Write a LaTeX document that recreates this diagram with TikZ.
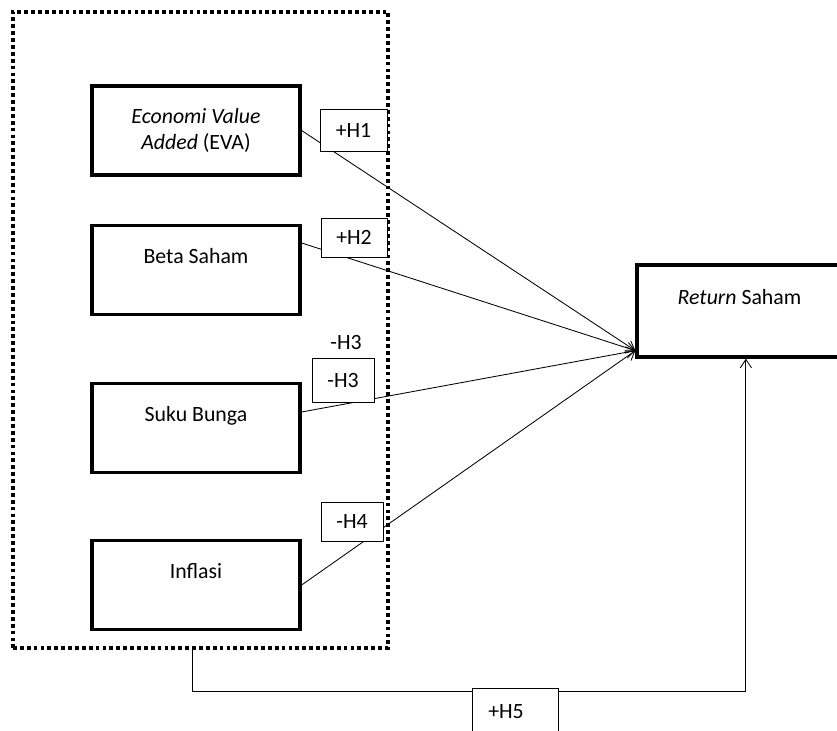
\documentclass[tikz,border=0pt]{standalone}
\usepackage{fontspec}
\setmainfont{Carlito}
\usetikzlibrary{arrows.meta,positioning,calc}

\begin{document}
\begin{tikzpicture}[
    x=0.025cm, y=-0.025cm,
    font=\fontsize{15.5}{18.7}\selectfont, >={Straight Barb[length=6pt,width=8pt]},
    group/.style={rectangle, draw, line width=2.5pt, dash pattern=on 2.7pt off 2.2pt, minimum width=9.375cm, minimum height=15.9cm},
    var/.style={rectangle, draw, line width=2.3pt, minimum width=5.2cm, minimum height=2.225cm, align=center},
    raised/.style={text depth=0.72cm},
    hyp/.style={rectangle, draw, fill=white, line width=0.7pt, inner sep=0pt},
    link/.style={->, line width=0.6pt}
]
    \useasboundingbox (0,0) rectangle (837,731);
    % grouped variables
    \node[group] (grp) at (200.5,330) {};
    \node[var] (eva) at (196,130.5) {\textit{Economi Value}\\\textit{Added} (EVA)};
    \node[var, raised] (beta) at (196,270) {Beta Saham};
    \node[var, raised] (bunga) at (196,428) {Suku Bunga};
    \node[var, raised] (inflasi) at (196,585) {Inflasi};
    \node[var, raised, minimum width=5.125cm, minimum height=2.3cm] (ret) at (739.5,311) {\textit{Return} Saham};
    % paths to return
    \coordinate (hub) at ($(ret.south west)+(0,-8)$);
    \draw[link] (eva.east) -- (hub);
    \draw[link] ([yshift=0.675cm]beta.east) -- (hub);
    \draw[link] ([yshift=0.4cm]bunga.east) -- (hub);
    \draw[link] (inflasi.east) -- (hub);
    \draw[link] ([xshift=-0.19cm]grp.south) -- ++(0,42) -| ([xshift=0.16cm]ret.south);
    % hypothesis labels
    \node[hyp, minimum width=1.675cm, minimum height=1.05cm] (h1) at (353.5,130) {+H1};
    \node[hyp, minimum width=1.65cm, minimum height=0.975cm] (h2) at (354,237.5) {+H2};
    \node (h3note) at (346,342) {-H3};
    \node[hyp, minimum width=1.55cm, minimum height=1.1cm] (h3) at (343,380) {-H3};
    \node[hyp, minimum width=1.55cm, minimum height=0.975cm] (h4) at (352,521.5) {-H4};
    \node[hyp, minimum width=2.15cm, minimum height=1.45cm, anchor=north west] (h5) at (472,688) {};
    \node[anchor=west, inner sep=0pt] (h5text) at ($(h5.north west)+(16,24)$) {+H5};
\end{tikzpicture}
\end{document}
